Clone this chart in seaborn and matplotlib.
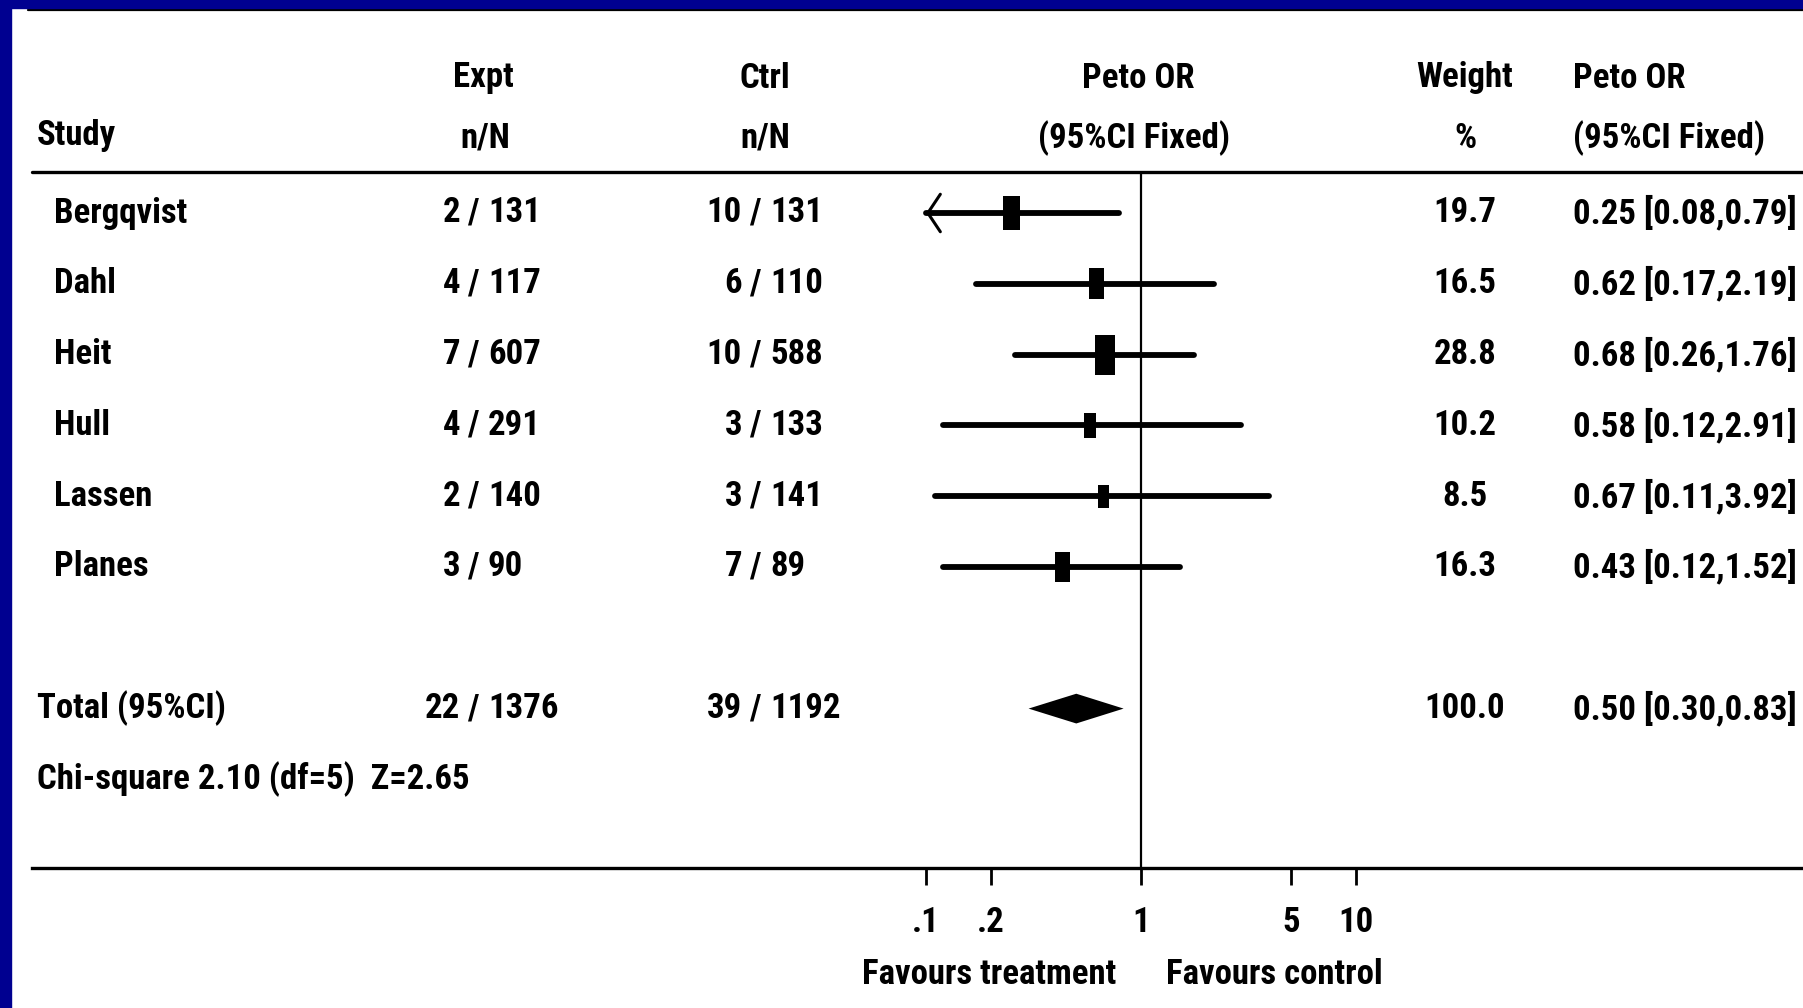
import numpy as np
import pandas as pd
import seaborn as sns
import matplotlib.pyplot as plt
from matplotlib.path import Path
from matplotlib.patches import Rectangle
from matplotlib.ticker import NullLocator
from matplotlib.transforms import blended_transform_factory

# study data
studies = ["Bergqvist", "Dahl", "Heit", "Hull", "Lassen", "Planes"]
expt_n = [2, 4, 7, 4, 2, 3]
expt_N = [131, 117, 607, 291, 140, 90]
ctrl_n = [10, 6, 10, 3, 3, 7]
ctrl_N = [131, 110, 588, 133, 141, 89]
weight = [19.7, 16.5, 28.8, 10.2, 8.5, 16.3]
or_est = [0.25, 0.62, 0.68, 0.58, 0.67, 0.43]
or_lo = [0.08, 0.17, 0.26, 0.12, 0.11, 0.12]
or_hi = [0.79, 2.19, 1.76, 2.91, 3.92, 1.52]

# pooled result
total_expt = (22, 1376)
total_ctrl = (39, 1192)
total_weight = 100.0
total_or = (0.50, 0.30, 0.83)
het_text = "Chi-square 2.10 (df=5)  Z=2.65"

tick_vals = [0.1, 0.2, 1, 5, 10]
tick_labels = [".1", ".2", "1", "5", "10"]

# layout (pixels of the 1803x1008 canvas)
W, H = 1803, 1008
PX_ONE = 1141      # x pixel of OR = 1
PX_DEC = 215       # pixels per decade
ROW0 = 213         # y pixel of first study row
ROW_STEP = 70.8
AXIS_PX = 868
FS = 25


def row(ypx):
    return (ypx - ROW0) / ROW_STEP


def xlog(xpx):
    return 10 ** ((xpx - PX_ONE) / PX_DEC)


sns.set_theme(style="white")
plt.rcParams["font.family"] = ["Roboto Condensed", "Liberation Sans", "DejaVu Sans"]
plt.rcParams["font.weight"] = "bold"

fig = plt.figure(figsize=(W / 100, H / 100), dpi=100)
fig.patch.set_facecolor("white")
ax = fig.add_axes([0, (H - AXIS_PX) / H, 1, AXIS_PX / H])
ax.set_facecolor("white")
ax.set_xscale("log")
ax.set_xlim(xlog(0), xlog(W))
ax.set_ylim(row(AXIS_PX), row(0))
tr = blended_transform_factory(ax.transAxes, ax.transData)


def put(xpx, ypx, s, ha="left"):
    ax.text(xpx / W, row(ypx), s, transform=tr, ha=ha, va="center",
            fontsize=FS, color="black")


def put_count(x_n, ypx, n, N):
    # "n / N" with the slash in a fixed column
    put(x_n, ypx, str(n), "right")
    put(x_n + 7, ypx, "/")
    put(x_n + 28, ypx, str(N))


# header
put(37, 136, "Study")
put(483, 78, "Expt", "center")
put(485, 138, "n/N", "center")
put(765, 78, "Ctrl", "center")
put(765, 138, "n/N", "center")
put(1138, 78, "Peto OR", "center")
put(1134, 138, "(95%CI Fixed)", "center")
put(1465, 78, "Weight", "center")
put(1465, 138, "%", "center")
put(1573, 78, "Peto OR")
put(1573, 138, "(95%CI Fixed)")

# table rows
rows = np.arange(len(studies))
for i, name in enumerate(studies):
    y = ROW0 + i * ROW_STEP
    put(54, y, name)
    put_count(460, y, expt_n[i], expt_N[i])
    put_count(742, y, ctrl_n[i], ctrl_N[i])
    put(1465, y, f"{weight[i]:.1f}", "center")
    put(1573, y, f"{or_est[i]:.2f} [{or_lo[i]:.2f},{or_hi[i]:.2f}]")

total_row = 7
y = ROW0 + total_row * ROW_STEP
put(37, y, "Total (95%CI)")
put_count(460, y, total_expt[0], total_expt[1])
put_count(742, y, total_ctrl[0], total_ctrl[1])
put(1465, y, f"{total_weight:.1f}", "center")
put(1573, y, f"{total_or[0]:.2f} [{total_or[1]:.2f},{total_or[2]:.2f}]")
put(37, ROW0 + 8 * ROW_STEP, het_text)

# rules
ax.plot([28 / W, 1], [row(10)] * 2, transform=tr, color="black", lw=1.6, clip_on=False)
ax.plot([32 / W, 1], [row(172)] * 2, transform=tr, color="black", lw=2.4, clip_on=False)
ax.vlines(1, row(172), row(AXIS_PX), color="black", lw=1.6)

# confidence intervals
lo_draw = np.maximum(or_lo, tick_vals[0])
ci = ax.hlines(rows, lo_draw, or_hi, color="black", lw=4.2)
ci.set_capstyle("round")
for i in rows:
    if or_lo[i] < tick_vals[0]:
        ax.annotate("", xy=(tick_vals[0], i), xytext=(tick_vals[0] * 1.3, i),
                    arrowprops=dict(arrowstyle="->,head_length=0.9,head_width=1.35",
                                    lw=2.2, color="black", shrinkA=0, shrinkB=0,
                                    mutation_scale=10))

# weighted boxes
df = pd.DataFrame({"study": studies, "est": or_est, "row": rows, "weight": weight})
box = Path([(-0.25, -0.5), (0.25, -0.5), (0.25, 0.5), (-0.25, 0.5), (-0.25, -0.5)],
           [Path.MOVETO, Path.LINETO, Path.LINETO, Path.LINETO, Path.CLOSEPOLY])
sns.scatterplot(data=df, x="est", y="row", size="weight", sizes=(275, 829),
                marker=box, color="black", edgecolor="black", linewidth=0,
                legend=False, ax=ax, zorder=3)

# pooled diamond
half = 0.21
ax.fill([total_or[1], total_or[0], total_or[2], total_or[0]],
        [total_row, total_row - half, total_row, total_row + half],
        color="black", lw=0)

# axis
for side in ["left", "right", "top"]:
    ax.spines[side].set_visible(False)
ax.spines["bottom"].set_visible(True)
ax.spines["bottom"].set_color("black")
ax.spines["bottom"].set_linewidth(2.4)
ax.spines["bottom"].set_bounds(xlog(32), xlog(W))
ax.set_xticks(tick_vals, tick_labels)
ax.xaxis.set_minor_locator(NullLocator())
ax.set_yticks([])
ax.set_xlabel("")
ax.set_ylabel("")
ax.tick_params(axis="x", direction="out", length=12, width=2, pad=15,
               labelsize=FS, colors="black", bottom=True)

ax.text(1116 / W, row(974), "Favours treatment", transform=tr, ha="right",
        va="center", fontsize=FS, color="black")
ax.text(1166 / W, row(974), "Favours control", transform=tr, ha="left",
        va="center", fontsize=FS, color="black")

# blue slide frame
navy = "#000090"
fig.add_artist(Rectangle((0, 0), 11 / W, 1, transform=fig.transFigure,
                         color=navy, zorder=10))
fig.add_artist(Rectangle((0, 1 - 8 / H), 1, 8 / H, transform=fig.transFigure,
                         color=navy, zorder=10))

fig.savefig("out.png", dpi=100)
